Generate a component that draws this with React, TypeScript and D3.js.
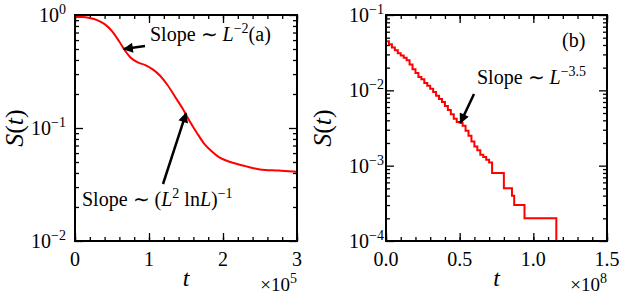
import React, { useRef, useEffect } from "react"
import * as d3 from "d3"

// panel (a): t in units of 1e5
const tA = [0, 0.1, 0.2, 0.3, 0.4, 0.5, 0.6, 0.68, 0.75, 0.85, 0.95, 1.05, 1.15, 1.25, 1.35, 1.45, 1.55, 1.65, 1.75, 1.85, 1.95, 2.1, 2.3, 2.5, 2.75, 3.0]
const sA = [0.96, 0.96, 0.94, 0.9, 0.83, 0.72, 0.58, 0.48, 0.42, 0.38, 0.36, 0.33, 0.29, 0.24, 0.19, 0.15, 0.115, 0.09, 0.072, 0.062, 0.055, 0.05, 0.046, 0.043, 0.042, 0.041]

// panel (b): t in units of 1e8, staircase
const tB = [0, 0, 0.02, 0.04, 0.06, 0.08, 0.10, 0.12, 0.14, 0.16, 0.18, 0.20, 0.22, 0.24, 0.26, 0.28, 0.30, 0.32, 0.34, 0.36, 0.38, 0.40, 0.42, 0.44, 0.46, 0.48, 0.50, 0.52, 0.54, 0.56, 0.58, 0.60, 0.62, 0.64, 0.66, 0.68, 0.70, 0.72, 0.80, 0.855, 0.87, 0.94, 1.156]
const sB = [0.1, 0.045, 0.041, 0.037, 0.034, 0.031, 0.029, 0.027, 0.025, 0.022, 0.019, 0.017, 0.015, 0.014, 0.0125, 0.0115, 0.0105, 0.0095, 0.0085, 0.0077, 0.0070, 0.0062, 0.0055, 0.0048, 0.0042, 0.0038, 0.0037, 0.0034, 0.0029, 0.0025, 0.0021, 0.0018, 0.0016, 0.0014, 0.0013, 0.0012, 0.0011, 0.0008, 0.0005, 0.0004, 0.0003, 0.0002, 0]

const xTicksA = [0, 1, 2, 3]
const xTicksB = [0, 0.5, 1.0, 1.5]
const yDecA = [-2, -1, 0]
const yDecB = [-4, -3, -2, -1]

const FONT = "Liberation Serif"

export default function App() {
  const svgRef = useRef(null)

  useEffect(() => {
    const svg = d3.select(svgRef.current)
    svg.selectAll("*").remove()

    svg.append("defs").append("marker")
      .attr("id", "head")
      .attr("viewBox", "0 0 10 10")
      .attr("refX", 9).attr("refY", 5)
      .attr("markerWidth", 11).attr("markerHeight", 10)
      .attr("markerUnits", "userSpaceOnUse")
      .attr("orient", "auto")
      .append("path").attr("d", "M0,0 L10,5 L0,10 Z").attr("fill", "black")

    function panel(id, box, xDom, xTicks, xMinorStep, xFmt, decs, tv, sv, step, labelEnd, ylabX, xMult) {
      const x = d3.scaleLinear().domain(xDom).range([box.l, box.r])
      const y = d3.scaleLog().domain([Math.pow(10, decs[0]), Math.pow(10, decs[decs.length - 1])]).range([box.b, box.t])
      const g = svg.append("g")

      const minorX = d3.range(xDom[0], xDom[1] + 1e-9, xMinorStep)
      const minorY = []
      for (let d = decs[0]; d < decs[decs.length - 1]; d++)
        for (let k = 2; k <= 9; k++) minorY.push(k * Math.pow(10, d))
      const majorY = decs.map(d => Math.pow(10, d))

      const ax = (gen, tr, vals, size) => g.append("g")
        .attr("transform", tr)
        .call(gen.tickValues(vals).tickSize(size).tickFormat("").tickSizeOuter(0))
        .call(s => s.select(".domain").remove())
        .call(s => s.selectAll("line").attr("stroke", "black").attr("stroke-width", 1.3))

      ax(d3.axisBottom(x), `translate(0,${box.b})`, xTicks, -8)
      ax(d3.axisBottom(x), `translate(0,${box.b})`, minorX, -4)
      ax(d3.axisTop(x), `translate(0,${box.t})`, xTicks, -8)
      ax(d3.axisTop(x), `translate(0,${box.t})`, minorX, -4)
      ax(d3.axisLeft(y), `translate(${box.l},0)`, majorY, -8)
      ax(d3.axisLeft(y), `translate(${box.l},0)`, minorY, -4)
      ax(d3.axisRight(y), `translate(${box.r},0)`, majorY, -8)
      ax(d3.axisRight(y), `translate(${box.r},0)`, minorY, -4)

      g.append("clipPath").attr("id", "clip" + id)
        .append("rect").attr("x", box.l).attr("y", box.t).attr("width", box.r - box.l).attr("height", box.b - box.t)

      const line = d3.line()
        .x((d, i) => x(tv[i]))
        .y((d, i) => y(Math.max(sv[i], Math.pow(10, decs[0] - 1))))
        .curve(step ? d3.curveStepAfter : d3.curveMonotoneX)

      g.append("path")
        .datum(tv)
        .attr("clip-path", `url(#clip${id})`)
        .attr("d", line)
        .attr("fill", "none")
        .attr("stroke", "#ff0000")
        .attr("stroke-width", 2)

      g.append("rect")
        .attr("x", box.l).attr("y", box.t)
        .attr("width", box.r - box.l).attr("height", box.b - box.t)
        .attr("fill", "none").attr("stroke", "black").attr("stroke-width", 2)

      // tick labels
      g.selectAll(".xl").data(xTicks).enter().append("text")
        .attr("x", d => x(d)).attr("y", 266)
        .attr("text-anchor", "middle")
        .style("font-family", FONT).style("font-size", "20px")
        .text(d => xFmt(d))

      decs.forEach(d => {
        const t = g.append("text")
          .attr("x", labelEnd).attr("y", y(Math.pow(10, d)) + 7)
          .attr("text-anchor", "end")
          .style("font-family", FONT).style("font-size", "20px")
        t.append("tspan").text("10")
        t.append("tspan").attr("dy", -8).style("font-size", "14px").text(d < 0 ? "\u2212" + Math.abs(d) : String(d))
      })

      // axis labels
      const yl = g.append("text")
        .attr("transform", `translate(${ylabX},${(box.t + box.b) / 2}) rotate(-90)`)
        .attr("text-anchor", "middle")
        .style("font-family", FONT).style("font-size", "26px")
      yl.append("tspan").style("font-style", "italic").text("S")
      yl.append("tspan").text("(")
      yl.append("tspan").style("font-style", "italic").text("t")
      yl.append("tspan").text(")")

      g.append("text")
        .attr("x", (box.l + box.r) / 2).attr("y", 286)
        .attr("text-anchor", "middle")
        .style("font-family", FONT).style("font-size", "24px").style("font-style", "italic")
        .text("t")

      const m = g.append("text")
        .attr("x", box.r).attr("y", 291)
        .attr("text-anchor", "end")
        .style("font-family", FONT).style("font-size", "19px")
      m.append("tspan").text("\u00d710")
      m.append("tspan").attr("dy", -8).style("font-size", "14px").text(xMult)

      return { x, y, g }
    }

    const A = panel("a", { l: 75, r: 297, t: 15, b: 241 }, [0, 3], xTicksA, 0.2, d => String(d), yDecA, tA, sA, false, 66, 23, "5")
    const B = panel("b", { l: 386, r: 607, t: 15, b: 241 }, [0, 1.5], xTicksB, 0.1, d3.format(".1f"), yDecB, tB, sB, true, 384, 331, "8")

    function note(x0, y0, parts) {
      const t = svg.append("text").attr("x", x0).attr("y", y0)
        .style("font-family", FONT).style("font-size", "20px")
      parts.forEach(p => {
        const s = t.append("tspan").text(p.t)
        if (p.i) s.style("font-style", "italic")
        if (p.dy) s.attr("dy", p.dy)
        if (p.fs) s.style("font-size", p.fs + "px")
      })
    }
    function arrow(x1, y1, x2, y2) {
      svg.append("line").attr("x1", x1).attr("y1", y1).attr("x2", x2).attr("y2", y2)
        .attr("stroke", "black").attr("stroke-width", 2.5).attr("marker-end", "url(#head)")
    }

    note(150, 41, [{ t: "Slope \u223c " }, { t: "L", i: true }, { t: "\u22122", dy: -8, fs: 14 }, { t: "(a)", dy: 8 }])
    arrow(145, 46, A.x(0.66), A.y(0.5))

    note(82, 206, [{ t: "Slope \u223c (" }, { t: "L", i: true }, { t: "2", dy: -8, fs: 14 }, { t: " ln", dy: 8 }, { t: "L", i: true }, { t: ")" }, { t: "\u22121", dy: -8, fs: 14 }])
    arrow(163, 184, A.x(1.5), A.y(0.135))

    note(562, 47, [{ t: "(b)" }])
    note(477, 84, [{ t: "Slope \u223c " }, { t: "L", i: true }, { t: "\u22123.5", dy: -8, fs: 14 }])
    arrow(474, 94, B.x(0.505), B.y(0.0037))
  }, [])

  return (
    <svg ref={svgRef} width={623} height={295} style={{ position: "absolute", left: 0, top: 0, background: "white" }}></svg>
  )
}
